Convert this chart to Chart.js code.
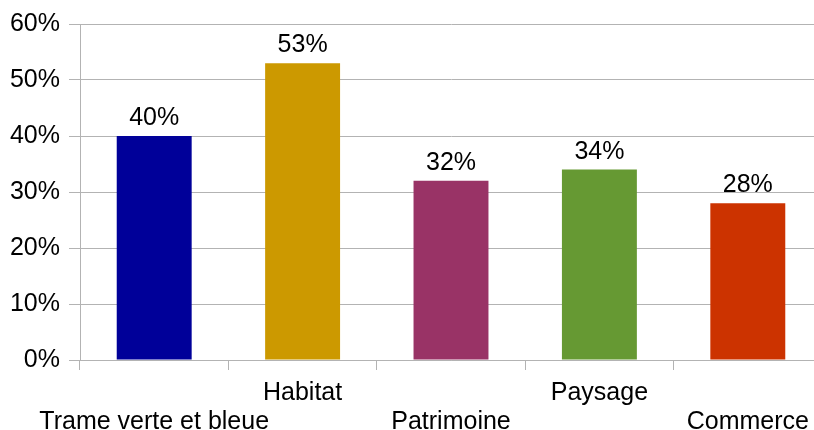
<!DOCTYPE html>
<html>
<head>
<meta charset="utf-8">
<script src="https://cdn.jsdelivr.net/npm/chart.js@4/dist/chart.umd.min.js"></script>
<style>
html,body{margin:0;padding:0;overflow:hidden;background:#fff;width:814px;height:430px;}
canvas{display:block;}
</style>
</head>
<body>
<canvas id="c" width="822" height="430"></canvas>
<script>
const categories = ['Trame verte et bleue', 'Habitat', 'Patrimoine', 'Paysage', 'Commerce'];
const values = [40, 53, 32, 34, 28];
const barColors = ['#000099', '#cc9900', '#993366', '#669933', '#cc3300'];
const yTicks = [0, 10, 20, 30, 40, 50, 60];

const FONT = 'Liberation Sans, Arial, sans-serif';
const GRID = '#b3b3b3';

const staggered = categories.map((c, i) => i % 2 === 0 ? ['', c] : [c, '']);

const valueLabels = {
  id: 'valueLabels',
  afterDatasetsDraw(chart) {
    const ctx = chart.ctx;
    const meta = chart.getDatasetMeta(0);
    ctx.save();
    ctx.font = '25px ' + FONT;
    ctx.fillStyle = '#000';
    ctx.textAlign = 'center';
    ctx.textBaseline = 'alphabetic';
    meta.data.forEach((el, i) => {
      ctx.fillText(values[i] + '%', el.x, el.y - 11);
    });
    ctx.restore();
  }
};

new Chart(document.getElementById('c'), {
  type: 'bar',
  data: {
    labels: staggered,
    datasets: [{
      data: values,
      backgroundColor: barColors,
      borderWidth: 0,
      barPercentage: 1,
      categoryPercentage: 0.505
    }]
  },
  options: {
    responsive: false,
    animation: false,
    layout: { padding: { top: 12, left: 0, right: 0, bottom: 0 } },
    plugins: { legend: { display: false }, tooltip: { enabled: false } },
    scales: {
      x: {
        offset: true,
        afterFit(s) { s.height = 70; },
        grid: { offset: true, drawOnChartArea: false, drawTicks: true, tickLength: 10, color: GRID, lineWidth: 1 },
        border: { display: true, color: GRID },
        ticks: { color: '#000', font: { family: FONT, size: 25, lineHeight: 1.15 }, padding: 9, maxRotation: 0, autoSkip: false }
      },
      y: {
        min: 0, max: 60,
        afterFit(s) { s.width = 80; },
        afterBuildTicks(s) { s.ticks = yTicks.map(v => ({ value: v })); },
        grid: { color: GRID, tickLength: 11, lineWidth: 1 },
        border: { display: true, color: GRID },
        ticks: { color: '#000', font: { family: FONT, size: 25 }, padding: 9, callback: v => v + '%' }
      }
    }
  },
  plugins: [valueLabels]
});
</script>
</body>
</html>
